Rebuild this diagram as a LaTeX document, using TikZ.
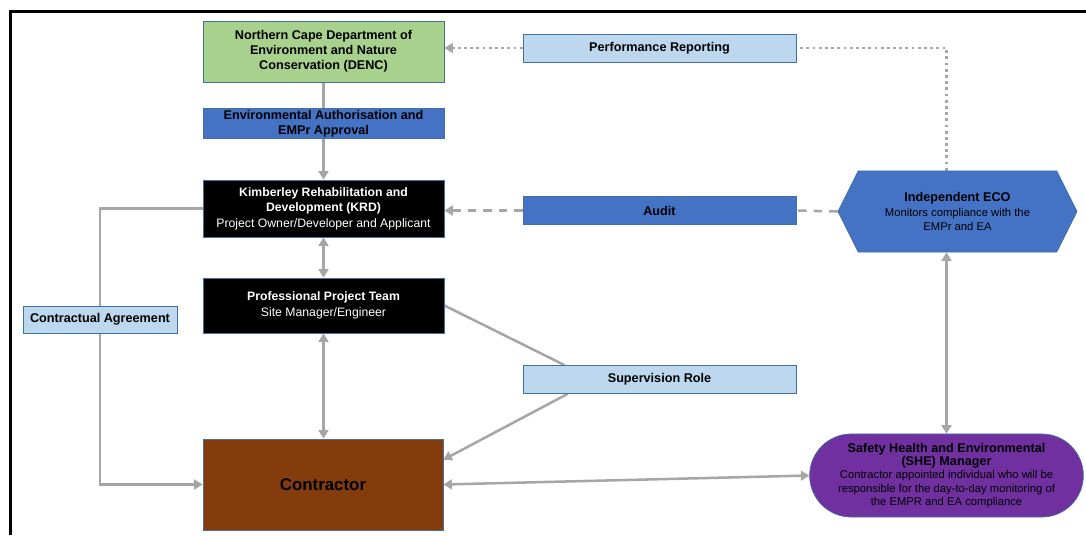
\documentclass[tikz,border=0pt]{standalone}
\usepackage{fontspec}
\setmainfont{Liberation Sans}
\usetikzlibrary{arrows.meta,calc,backgrounds,shapes.misc,shapes.symbols}
\usepackage{xcolor}
\definecolor{dencgreen}{HTML}{A9D18E}
\definecolor{midblue}{HTML}{4472C4}
\definecolor{paleblue}{HTML}{BDD7EE}
\definecolor{edgeblue}{HTML}{41719C}
\definecolor{conbrown}{HTML}{843C0C}
\definecolor{shepurple}{HTML}{7030A0}
\definecolor{linkgray}{HTML}{A6A6A6}
\tikzset{%
  box/.style={rectangle, draw=edgeblue, line width=0.5pt, align=center, inner sep=1pt, minimum width=6.025cm},
  dark box/.style={box, fill=black, text=white, font=\fontsize{8.7}{11}\selectfont},
  tag/.style={box, fill=paleblue, minimum width=6.825cm, minimum height=0.7cm, font=\fontsize{9}{11}\selectfont\bfseries},
  conn/.style={draw=linkgray, line width=1.8pt},
  dashline/.style={conn, dash pattern=on 6pt off 5pt},
  dotline/.style={conn, line width=2pt, dash pattern=on 2pt off 2.4pt}
}

\begin{document}
\begin{tikzpicture}[x=0.025cm, y=-0.025cm, >={Triangle[length=6pt,width=7pt]}]
      \useasboundingbox (0,0) rectangle (1086,535);
      % frame
      \draw[line width=2pt] (10.5,535) -- (10.5,11.5) -- (1086,11.5);

      \node[box, fill=dencgreen, minimum height=1.525cm, font=\fontsize{9}{10.8}\selectfont\bfseries] (denc) at (323.5,51.5) {Northern Cape Department of\\Environment and Nature\\Conservation (DENC)};
      \node[box, fill=midblue, minimum height=0.675cm, font=\fontsize{9}{10.5}\selectfont\bfseries] (ea) at (323.5,123.5) {Environmental Authorisation and\\EMPr Approval};
      \node[dark box, minimum height=1.425cm] (krd) at (323.5,208.5) {\textbf{Kimberley Rehabilitation and}\\\textbf{Development (KRD)}\\Project Owner/Developer and Applicant};
      \node[dark box, minimum height=1.375cm] (ppt) at (323.5,305.5) {\textbf{Professional Project Team}\\Site Manager/Engineer};
      \node[box, fill=conbrown, minimum width=6cm, minimum height=2.275cm, font=\fontsize{12}{14}\selectfont\bfseries] (con) at (323,484.5) {Contractor};

      \node[tag] (pr) at (659.5,48) {Performance Reporting};
      \node[tag, fill=midblue] (audit) at (659.5,210.5) {Audit};
      \node[tag] (sup) at (659.5,379.5) {Supervision Role};
      \node[tag, minimum width=3.85cm, minimum height=0.675cm] (ca) at (100,319.5) {Contractual Agreement};

      \node[signal, signal to=east and west, signal pointer angle=127, fill=midblue, draw=edgeblue, line width=0.5pt,
            minimum width=5.975cm, minimum height=2.025cm, align=center, font=\fontsize{8}{10}\selectfont] (eco) at (957.5,211.5)
            {\textbf{\fontsize{9}{11}\selectfont Independent ECO}\\Monitors compliance with the\\EMPr and EA};
      \node[rounded rectangle, fill=shepurple, draw=edgeblue, line width=0.5pt, minimum width=7.075cm, minimum height=2.075cm,
            align=center, font=\fontsize{8}{9.4}\selectfont] (she) at (946.5,475.5)
            {\textbf{\fontsize{9}{11}\selectfont Safety Health and Environmental}\\\textbf{\fontsize{9}{11}\selectfont (SHE) Manager}\\Contractor appointed individual who will be\\responsible for the day-to-day monitoring of\\the EMPR and EA compliance};

      \begin{scope}[on background layer]
      \draw[conn, ->] (denc) -- (krd);
      \draw[conn, <->] (krd) -- (ppt);
      \draw[conn, <->] (ppt.south) -- (ppt.south |- con.north);
      \draw[conn, ->] (krd.west) -| (ca.center) |- (con.west);
      \draw[conn] (ppt.east) -- ($(sup.north west)+(42,0)$);
      \draw[conn, ->] ($(sup.south west)+(45,0)$) -- ($(con.north east)!0.23!(con.south east)$);
      \draw[conn, <->] (con.east) -- (she.west);
      \draw[conn, <->] (she.north |- eco.south) -- (she.north);
      \draw[dashline] (eco.west) -- (audit.east);
      \draw[dashline, ->] (audit.west) -- (audit.west -| krd.east);
      \draw[dotline] (she.north |- eco.north) |- (pr.east);
      \draw[dotline, ->] (pr.west) -- (pr.west -| denc.east);
      \end{scope}
\end{tikzpicture}
\end{document}
